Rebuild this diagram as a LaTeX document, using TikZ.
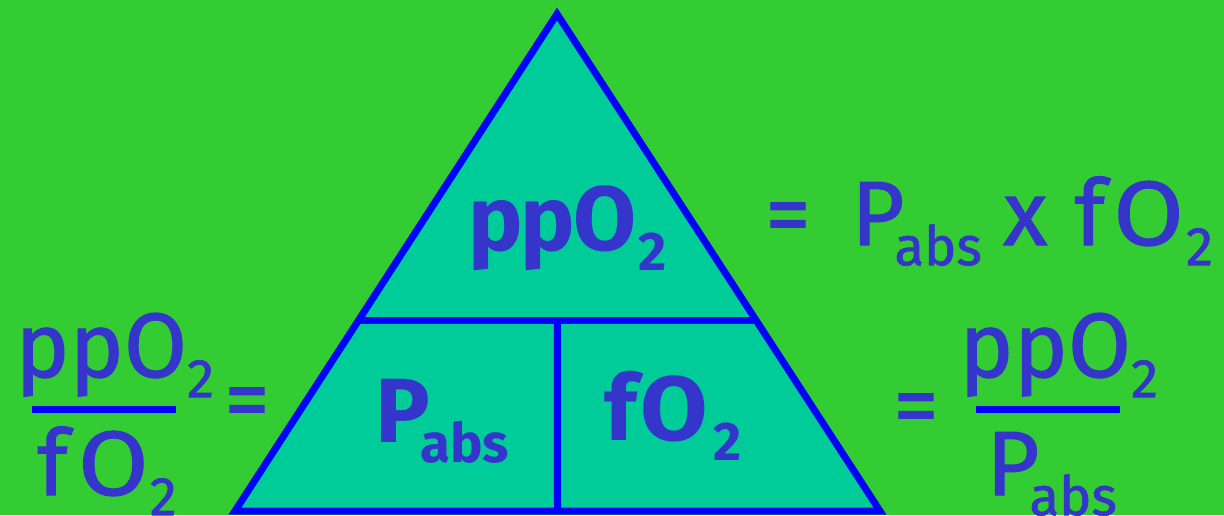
\documentclass[tikz,border=0pt]{standalone}
\usepackage{fontspec}
\setmainfont{Fira Sans}
\newfontfamily\regfont{Fira Sans}[FakeBold=1.2]
\usetikzlibrary{calc}
\definecolor{bgGreen}{HTML}{33CC33}
\definecolor{triFill}{HTML}{00CC99}
\definecolor{lineBlue}{HTML}{0000FF}
\definecolor{txtBlue}{HTML}{3535CC}
\newcommand{\mysub}[1]{\raisebox{-11.5pt}{\fontsize{31}{31}\selectfont #1}}
\newcommand{\pk}[1]{\kern#1\dimexpr0.02cm\relax}
\newcommand{\wideO}[1]{\scalebox{#1}[1]{O}}
\tikzset{
  outline/.style={draw=lineBlue, line width=7*0.02cm},
  lbl/.style={text=txtBlue, inner sep=0pt, font=\fontsize{52}{52}\selectfont\regfont},
  lblb/.style={text=txtBlue, inner sep=0pt, font=\fontsize{52}{52}\selectfont\bfseries},
  fracbar/.style={draw=lineBlue, line width=7*0.02cm},
}
\begin{document}
\begin{tikzpicture}[x=0.02cm,y=-0.02cm]
\fill[bgGreen] (0,0) rectangle (1224,515);
\useasboundingbox (0,0) rectangle (1224,515);
% triangle
\coordinate (A) at (557,14);
\coordinate (B) at (235,511);
\coordinate (C) at (880,511);
\filldraw[outline, fill=triFill, line join=miter] (A) -- (B) -- (C) -- cycle;
\coordinate (HL) at ($(A)!0.6157!(B)$);
\coordinate (HR) at ($(A)!0.6157!(C)$);
\coordinate (VT) at ($(HL)!0.5!(HR)$);
\coordinate (VB) at ($(B)!0.5!(C)$);
\draw[outline] (HL) -- (HR);
\draw[outline] (VT) -- (VB);
% triangle labels
\node[lblb, anchor=base west] (top) at (468,250) {p\pk{-2}p\pk{-2}O\pk{2}\mysub{2}};
\node[lblb, anchor=base west] (pabs) at (375,442) {P\pk{-10}\mysub{abs}};
\node[lblb, anchor=base west] (fo2) at (604,440) {f\pk{4}\wideO{1.07}\pk{5}\mysub{2}};
% right equation
\node[lbl] (eq1) at (788,224) {=};
\node[lbl, anchor=base west] (rhs1) at (851,245) {P\pk{-10}\mysub{abs}\pk{6}\,x\pk{12}\,f\pk{8}\wideO{1.12}\pk{2}\mysub{2}};
% left fraction
\node[lbl, anchor=base west] (lnum) at (15,377) {ppO\mysub{2}};
\coordinate (lb1) at (32,409.5);
\coordinate (lb2) at (176,409.5);
\draw[fracbar] (lb1) -- (lb2);
\node[lbl, anchor=base west] (lden) at (37,495) {f\pk{10}\wideO{1.12}\pk{1}\mysub{2}};
\node[lbl] (eq2) at (247,409) {=};
% right fraction
\node[lbl] (eq3) at (916,415) {=};
\node[lbl, anchor=base west] (rnum) at (959,377) {ppO\mysub{2}};
\coordinate (rb1) at (976,409.5);
\coordinate (rb2) at (1120,409.5);
\draw[fracbar] (rb1) -- (rb2);
\node[lbl, anchor=base west] (rden) at (986,495) {P\pk{-10}\mysub{abs}};
\end{tikzpicture}
\end{document}
